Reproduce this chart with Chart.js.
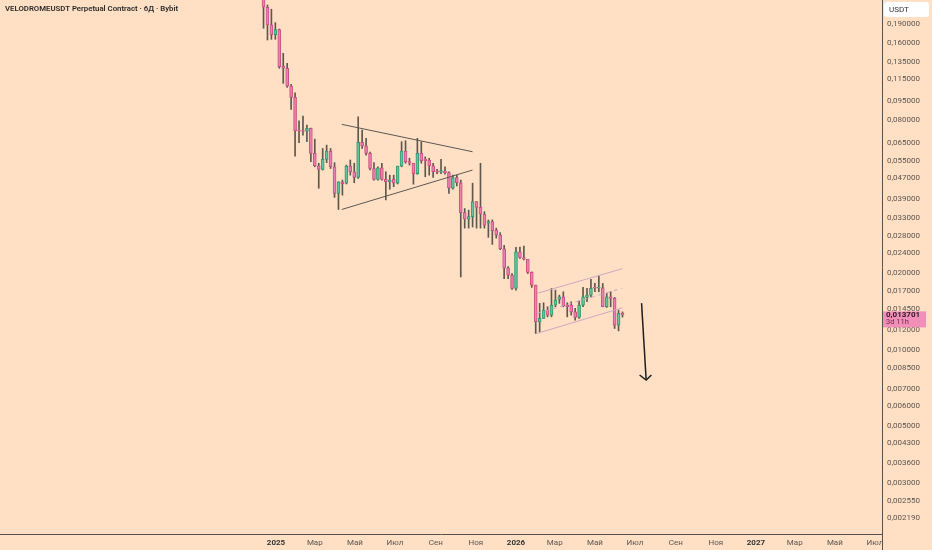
<!DOCTYPE html>
<html>
<head>
<meta charset="utf-8">
<script src="https://cdn.jsdelivr.net/npm/chart.js@4.4.1/dist/chart.umd.min.js"></script>
<style>
  html, body { margin: 0; padding: 0; background: #ffe0c4; }
  #wrap { position: relative; width: 932px; height: 550px; }
</style>
</head>
<body>
<div id="wrap"><canvas id="chart"></canvas></div>
<script>
// 6-day candles, VELODROMEUSDT (Bybit perpetual)
const firstBar = '2024-12-13';
const barDays = 6;

const opens = [
  0.2532, 0.2205, 0.1880, 0.1722, 0.1801, 0.1297, 0.1271, 0.1082, 0.0977, 0.0722,
  0.0720, 0.0720, 0.0739, 0.0589, 0.0527, 0.0510, 0.0558, 0.0602, 0.0522, 0.0410,
  0.0456, 0.0450, 0.0525, 0.0499, 0.0474, 0.0651,
  0.0631, 0.0589, 0.0514, 0.0466, 0.0517, 0.0466, 0.0456, 0.0466, 0.0450, 0.0525,
  0.0602, 0.0547, 0.0539, 0.0491, 0.0589, 0.0560, 0.0555, 0.0527, 0.0499, 0.0497,
  0.0502, 0.0495, 0.0430, 0.0474, 0.0452, 0.0345, 0.0325, 0.0333, 0.0381, 0.0362,
  0.0340, 0.0314, 0.0318, 0.0295, 0.0282, 0.0249, 0.0209, 0.0196, 0.0174, 0.0242,
  0.0230, 0.02264, 0.0201, 0.01793, 0.01287, 0.01327, 0.01430, 0.01367, 0.01497, 0.01576,
  0.01613, 0.01497, 0.01497, 0.01408, 0.01339, 0.01497, 0.01604, 0.01638, 0.0175, 0.01745,
  0.0175, 0.01474, 0.01613, 0.0159, 0.01249, 0.01388
];
const highs = [
  0.2625, 0.2251, 0.2167, 0.1919, 0.1812, 0.1455, 0.1329, 0.1099, 0.1019, 0.0791,
  0.0826, 0.0761, 0.0741, 0.0670, 0.0539, 0.0616, 0.0635, 0.0616, 0.0542, 0.0456,
  0.0463, 0.0530, 0.0555, 0.0539, 0.0820, 0.0727,
  0.0675, 0.0596, 0.0542, 0.0522, 0.0539, 0.0499, 0.0484, 0.0484, 0.0525, 0.0655,
  0.0661, 0.0564, 0.0539, 0.0675, 0.0655, 0.0571, 0.0564, 0.0539, 0.0510, 0.0558,
  0.0522, 0.0499, 0.0484, 0.0484, 0.0463, 0.0358, 0.0353, 0.0450, 0.0381, 0.0539,
  0.0348, 0.0323, 0.0323, 0.0300, 0.0288, 0.0257, 0.0212, 0.0199, 0.0252, 0.0253,
  0.0255, 0.02264, 0.0202, 0.01793, 0.0152, 0.01528, 0.01474, 0.0174, 0.01714, 0.01638,
  0.01688, 0.01528, 0.01542, 0.01452, 0.01556, 0.01756, 0.0174, 0.01887, 0.0182, 0.01948,
  0.0182, 0.01664, 0.01688, 0.01604, 0.01430, 0.01408
];
const lows = [
  0.1825, 0.1641, 0.1651, 0.1651, 0.1271, 0.1109, 0.1070, 0.0877, 0.0575, 0.0649,
  0.0695, 0.0655, 0.0547, 0.0522, 0.0430, 0.0507, 0.0542, 0.0514, 0.0396, 0.0355,
  0.0404, 0.0447, 0.0484, 0.0452, 0.0470, 0.0616,
  0.0580, 0.0507, 0.0463, 0.0463, 0.0463, 0.0387, 0.0426, 0.0436, 0.0447, 0.0522,
  0.0539, 0.0530, 0.0446, 0.0488, 0.0539, 0.0477, 0.0484, 0.0474, 0.0491, 0.0491,
  0.0488, 0.0410, 0.0426, 0.0439, 0.0193, 0.0300, 0.0300, 0.0303, 0.0300, 0.0300,
  0.0300, 0.0276, 0.0259, 0.0274, 0.0247, 0.0190, 0.0190, 0.01725, 0.01714, 0.0228,
  0.0225, 0.0199, 0.01756, 0.01159, 0.01176, 0.01327, 0.01346, 0.01346, 0.01474, 0.0152,
  0.01474, 0.01346, 0.01367, 0.01307, 0.01327, 0.01474, 0.01542, 0.01613, 0.01688, 0.01688,
  0.01474, 0.01466, 0.01474, 0.01212, 0.01186, 0.01343
];
const closes = [
  0.2205, 0.1880, 0.1722, 0.1801, 0.1289, 0.1271, 0.1082, 0.0977, 0.0722, 0.0720,
  0.0718, 0.0739, 0.0589, 0.0527, 0.0510, 0.0558, 0.0602, 0.0522, 0.0410, 0.0456,
  0.0448, 0.0525, 0.0499, 0.0474, 0.0651, 0.0631,
  0.0589, 0.0514, 0.0466, 0.0517, 0.0466, 0.0456, 0.0463, 0.0450, 0.0525, 0.0602,
  0.0547, 0.0539, 0.0491, 0.0589, 0.0552, 0.0552, 0.0527, 0.0499, 0.0498, 0.0504,
  0.0495, 0.0430, 0.0474, 0.0452, 0.0345, 0.0325, 0.0333, 0.0381, 0.0362, 0.0340,
  0.0308, 0.0318, 0.0293, 0.0282, 0.0249, 0.0209, 0.0196, 0.0174, 0.0242, 0.0230,
  0.02264, 0.0201, 0.01793, 0.01287, 0.01327, 0.01430, 0.01367, 0.01497, 0.01566, 0.01613,
  0.01484, 0.01474, 0.01408, 0.01339, 0.01497, 0.01613, 0.01638, 0.0174, 0.01745, 0.0175,
  0.01474, 0.01613, 0.0159, 0.01249, 0.01388, 0.013701
];

const priceTicks = [0.19, 0.16, 0.135, 0.115, 0.095, 0.08, 0.065, 0.055, 0.047, 0.039,
  0.033, 0.028, 0.024, 0.02, 0.017, 0.0145, 0.012, 0.01, 0.0085, 0.007, 0.006, 0.005,
  0.0043, 0.0036, 0.003, 0.00255, 0.00219];
const timeTicks = ['2025-01-01', '2025-03-01', '2025-05-01', '2025-07-01', '2025-09-01', '2025-11-01',
  '2026-01-01', '2026-03-01', '2026-05-01', '2026-07-01', '2026-09-01', '2026-11-01',
  '2027-01-01', '2027-03-01', '2027-05-01', '2027-07-01'];
const timeLabels = ['2025', 'Мар', 'Май', 'Июл', 'Сен', 'Ноя', '2026', 'Мар', 'Май', 'Июл', 'Сен', 'Ноя',
  '2027', 'Мар', 'Май', 'Июл'];

// drawings on the chart: [date, price] pairs
const triangleTop = [['2025-04-11', 0.0766], ['2025-10-27', 0.0598]];
const triangleBottom = [['2025-04-11', 0.0355], ['2025-10-27', 0.0507]];
const channelTop = [['2026-02-02', 0.01664], ['2026-06-12', 0.0208]];
const channelMid = [['2026-02-02', 0.01388], ['2026-06-12', 0.01745]];
const channelBottom = [['2026-02-02', 0.01159], ['2026-06-12', 0.01461]];
const arrowShaft = [['2026-07-11', 0.01524], ['2026-07-18', 0.00761]];
const arrowHead = [['2026-07-08', 0.00796], ['2026-07-18', 0.00761], ['2026-07-26', 0.00796]];

const bg = '#ffe0c4';
const axisColor = '#55514c';
const textColor = '#5a5550';
const upFill = '#63c49d', upLine = '#2f9a72';
const downFill = '#ec80ae', downLine = '#cc4f86';
const wickColor = '#5e574d';
const FONT = 'Roboto, "Liberation Sans", Arial, sans-serif';

const day0 = Date.parse('2025-01-01');
const day = (s) => (Date.parse(s) - day0) / 864e5;
const barX = opens.map((o, i) => day(firstBar) + i * barDays);
const tickDays = timeTicks.map(day);
const pts = (arr) => arr.map(p => ({x: day(p[0]), y: p[1]}));
const isUp = (i) => closes[i] >= opens[i];

const wicks = barX.map((x, i) => ({x: x, y: [lows[i], highs[i]]}));
const bodies = barX.map((x, i) => ({x: x, y: [Math.min(opens[i], closes[i]), Math.max(opens[i], closes[i])]}));

function drawLine(data, color, width, dash) {
  return {
    type: 'line', data: pts(data), borderColor: color, borderWidth: width,
    borderDash: dash || [], pointRadius: 0, fill: false, order: 0, tension: 0
  };
}

function noPad(s) {
  s.paddingTop = 0; s.paddingBottom = 0; s.paddingLeft = 0; s.paddingRight = 0;
}

const overlay = {
  id: 'overlay',
  afterDraw(chart) {
    const {ctx, chartArea, scales} = chart;
    const right = chartArea.right;
    ctx.save();
    // hide the part of the last month label that runs under the price scale
    ctx.fillStyle = bg;
    ctx.fillRect(right + 1, chartArea.bottom + 1, chart.width - right, chart.height - chartArea.bottom);
    ctx.strokeStyle = axisColor;
    ctx.lineWidth = 1;
    ctx.beginPath();
    ctx.moveTo(right + 0.5, chartArea.bottom);
    ctx.lineTo(right + 0.5, chart.height);
    ctx.stroke();

    // title
    ctx.fillStyle = '#2b2b2b';
    ctx.font = '600 7.8px ' + FONT;
    ctx.textBaseline = 'middle';
    ctx.textAlign = 'left';
    ctx.fillText('VELODROMEUSDT Perpetual Contract · 6Д · Bybit', 5, 9);

    // currency box
    ctx.fillStyle = '#ffffff';
    ctx.beginPath();
    ctx.roundRect(right + 2, 2, 45, 15, 3);
    ctx.fill();
    ctx.fillStyle = '#333333';
    ctx.font = '8px ' + FONT;
    ctx.fillText('USDT', right + 7, 10);

    // last price label
    const last = closes[closes.length - 1];
    const py = scales.y.getPixelForValue(last);
    ctx.fillStyle = '#f28fb8';
    ctx.fillRect(right + 1, py - 3.5, 43, 16);
    ctx.fillStyle = '#2a1a22';
    ctx.font = 'bold 8px ' + FONT;
    ctx.fillText(last.toFixed(6).replace('.', ','), right + 4, py + 0.5);
    ctx.fillStyle = '#6b2a48';
    ctx.font = '7.5px ' + FONT;
    ctx.fillText('3d 11h', right + 4, py + 7.5);
    ctx.restore();
  }
};

new Chart(document.getElementById('chart'), {
  type: 'bar',
  data: {
    datasets: [
      drawLine(triangleTop, '#5b5854', 1),
      drawLine(triangleBottom, '#5b5854', 1),
      drawLine(channelTop, '#cfa6c2', 1),
      drawLine(channelMid, '#cfa6c2', 1, [4, 4]),
      drawLine(channelBottom, '#cfa6c2', 1),
      drawLine(arrowShaft, '#1e1e1e', 1.5),
      drawLine(arrowHead, '#1e1e1e', 1.5),
      {
        data: bodies, grouped: false, order: 1, barThickness: 3, minBarLength: 1,
        borderSkipped: false, borderWidth: 1,
        backgroundColor: (c) => isUp(c.dataIndex) ? upFill : downFill,
        borderColor: (c) => isUp(c.dataIndex) ? upLine : downLine
      },
      {
        data: wicks, grouped: false, order: 2, barThickness: 1,
        backgroundColor: wickColor, borderWidth: 0
      }
    ]
  },
  options: {
    responsive: true,
    maintainAspectRatio: false,
    animation: false,
    layout: { padding: 0 },
    plugins: { legend: { display: false }, tooltip: { enabled: false } },
    scales: {
      x: {
        type: 'linear',
        offset: false,
        min: -419.8,
        max: 921.7,
        grid: { display: false, drawTicks: false },
        border: { display: true, color: axisColor, width: 1 },
        afterFit: (s) => { s.height = 16; noPad(s); },
        afterBuildTicks: (s) => { s.ticks = tickDays.map(v => ({value: v})); },
        ticks: {
          autoSkip: false, maxRotation: 0, padding: 4,
          callback: (v) => timeLabels[tickDays.indexOf(v)],
          color: (c) => /^\d{4}$/.test(timeLabels[c.index]) ? '#333333' : textColor,
          font: (c) => ({ family: FONT, size: 8, weight: /^\d{4}$/.test(timeLabels[c.index]) ? 'bold' : 'normal' })
        }
      },
      y: {
        type: 'logarithmic',
        position: 'right',
        min: 0.001893,
        max: 0.2355,
        grid: { display: false, drawTicks: false },
        border: { display: true, color: axisColor, width: 1 },
        afterFit: (s) => { s.width = 50; noPad(s); },
        afterBuildTicks: (s) => { s.ticks = priceTicks.map(v => ({value: v})); },
        ticks: {
          autoSkip: false, padding: 5, color: textColor,
          font: { family: FONT, size: 8 },
          callback: (v) => v.toFixed(6).replace('.', ',')
        }
      }
    }
  },
  plugins: [overlay]
});
</script>
</body>
</html>
